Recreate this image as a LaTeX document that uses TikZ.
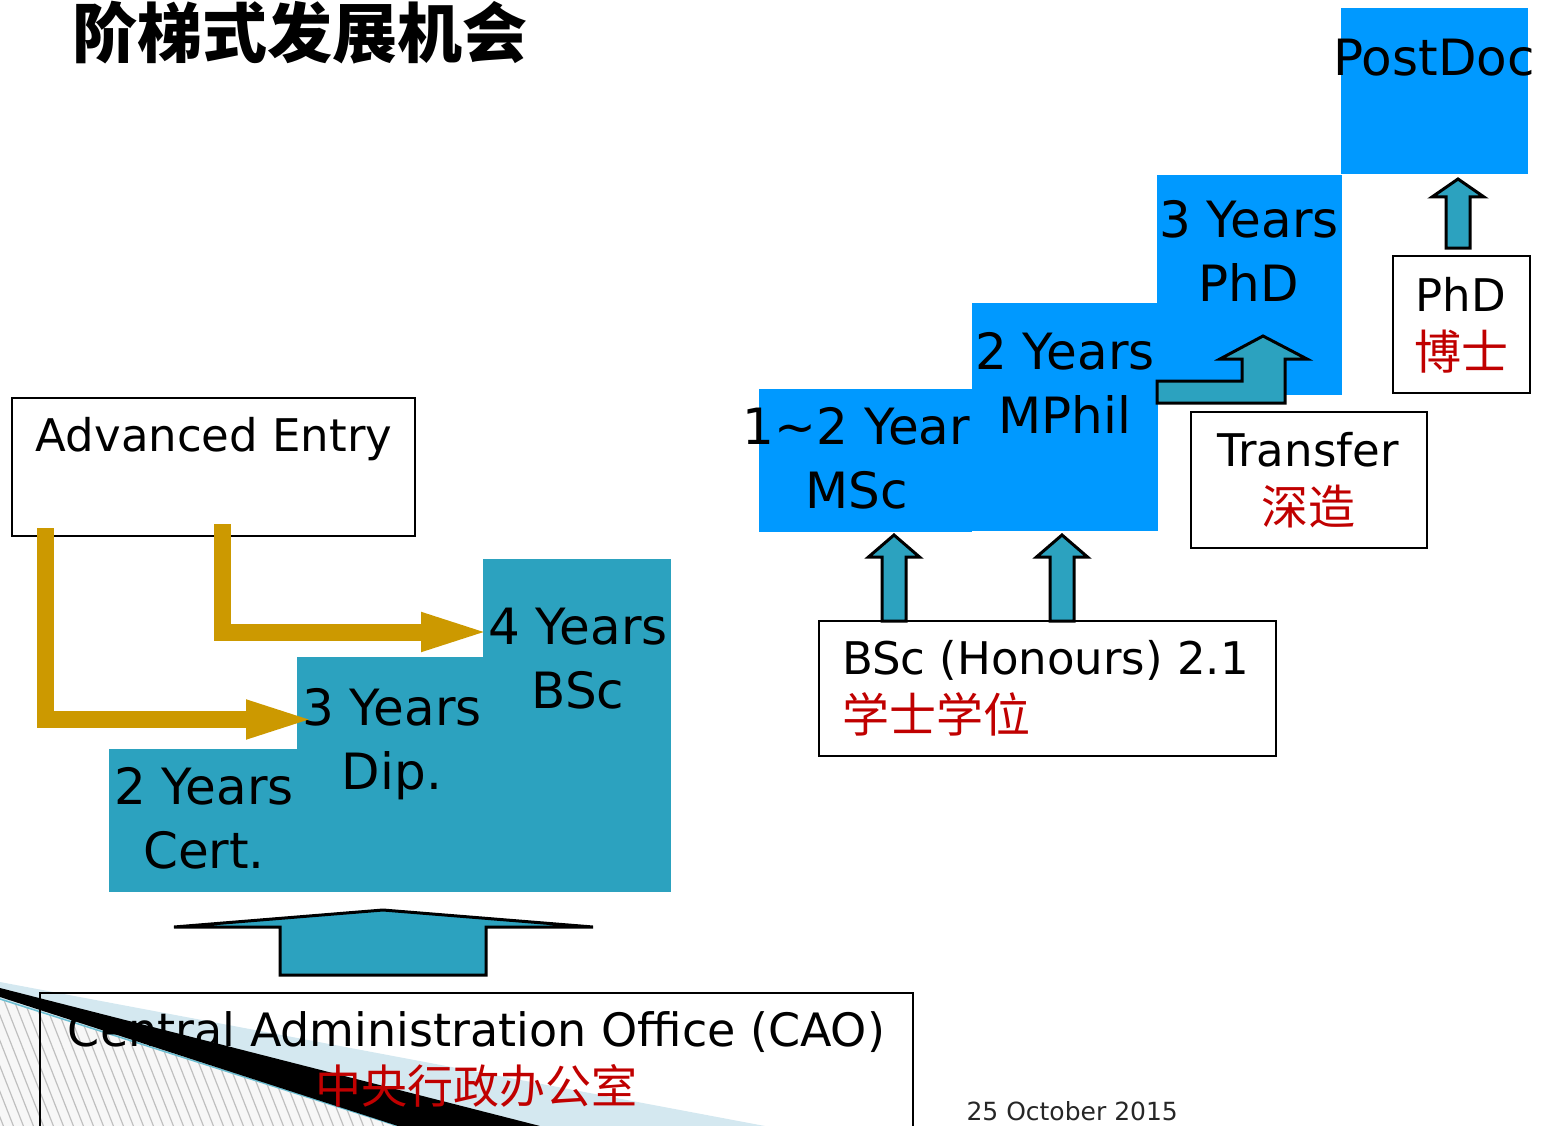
\documentclass[tikz,border=0pt]{standalone}
\usepackage{fontspec}
\setmainfont{DejaVu Sans}
\newfontfamily\cjk{Noto Sans CJK SC}
\usetikzlibrary{arrows.meta,positioning}

\definecolor{stepblue}{RGB}{0,153,255}
\definecolor{stepteal}{RGB}{44,162,191}
\definecolor{entrygold}{RGB}{204,153,0}
\definecolor{cnred}{RGB}{192,0,0}
\definecolor{bandblue}{RGB}{212,232,240}

\tikzset{
  bluestep/.style={rectangle, fill=stepblue, inner sep=0pt, outer sep=0pt},
  tealstep/.style={rectangle, fill=stepteal, inner sep=0pt, outer sep=0pt},
  steptext/.style={anchor=north, inner sep=0pt, align=center, font=\fontsize{50}{64}\selectfont},
  labelbox/.style={rectangle, draw=black, line width=2pt, fill=white, inner sep=0pt, outer sep=0pt},
  boxtext/.style={anchor=north, inner sep=0pt, align=center, font=\fontsize{45}{58}\selectfont},
  blockarrow/.style={fill=stepteal, draw=black, line width=3pt, line join=miter},
  entryarrow/.style={draw=entrygold, line width=17pt, line join=miter, -{Triangle[length=72pt,width=34pt]}}
}

\begin{document}
\begin{tikzpicture}[x=1pt,y=-1pt]
  \useasboundingbox (0,0) rectangle (1550,1126);

  % slide corner
  \fill[bandblue] (0,982) -- (765,1126) -- (0,1126) -- cycle;
  \fill[black!3] (0,999) -- (398,1126) -- (0,1126) -- cycle;
  \begin{scope}
    \clip (0,999) -- (398,1126) -- (0,1126) -- cycle;
    \foreach \x in {-60,-50,...,400}
      \draw[black!25, line width=1.2pt] (\x,990) -- ++(55,140);
  \end{scope}
  \draw[stepteal!70, line width=1.5pt] (0,999) -- (398,1126);
  \fill[black] (0,988) -- (540,1126) -- (398,1126) -- (0,997) -- cycle;

  \node[anchor=base west, font=\cjk\bfseries\fontsize{65}{70}\selectfont] (title) at (69,58) {阶梯式发展机会};

  % bottom part
  \node[labelbox, fill=none, minimum width=873pt, minimum height=180pt] (cao) at (476.5,1083) {};
  \node[boxtext, font=\fontsize{46}{57}\selectfont] (caot) at ([yshift=-18.5pt]cao.north) {Central Administration Office (CAO)\\{\cjk\color{cnred}中央行政办公室}};
  \draw[blockarrow] ([xshift=-93.5pt,yshift=18pt]cao.north) ++(-103,0) -- ++(0,-48) -- ++(-106,0) -- ++(209,-17) -- ++(210,17) -- ++(-107,0) -- ++(0,48) -- cycle;

  \node[tealstep, minimum width=189pt, minimum height=143pt] (cert) at (203.5,820.5) {};
  \node[tealstep, minimum width=187pt, minimum height=235pt] (dip) at (390.5,774.5) {};
  \node[tealstep, minimum width=188pt, minimum height=333pt] (bsc) at (577,725.5) {};
  \node[steptext] (certt) at ([xshift=0.5pt,yshift=-18pt]cert.north) {2 Years\\Cert.};
  \node[steptext] (dipt) at ([xshift=1.5pt,yshift=-31pt]dip.north) {3 Years\\Dip.};
  \node[steptext] (bsct) at ([xshift=1pt,yshift=-49pt]bsc.north) {4 Years\\BSc};

  \node[labelbox, minimum width=403pt, minimum height=138pt] (adv) at (213.5,467) {};
  \node[boxtext] (advt) at ([xshift=0.5pt,yshift=-19.5pt]adv.north) {Advanced Entry};
  \draw[entryarrow] ([xshift=33.5pt,yshift=8pt]adv.south west) |- ([xshift=21pt,yshift=55pt]dip.west);
  \draw[entryarrow] ([xshift=210.5pt,yshift=12pt]adv.south west) |- ([xshift=10pt,yshift=93.5pt]bsc.west);

  % right part
  \node[bluestep, minimum width=186pt, minimum height=228pt] (mphil) at (1065,417) {};
  \node[bluestep, minimum width=213pt, minimum height=143pt] (msc) at (865.5,460.5) {};
  \node[bluestep, minimum width=185pt, minimum height=220pt] (phd) at (1249.5,285) {};
  \node[bluestep, minimum width=187pt, minimum height=166pt] (postdoc) at (1434.5,91) {};
  \node[steptext] (msct) at ([xshift=-9pt,yshift=-18pt]msc.north) {1\textasciitilde2 Year\\MSc};
  \node[steptext] (mphilt) at ([yshift=-29pt]mphil.north) {2 Years\\MPhil};
  \node[steptext] (phdt) at ([xshift=-0.5pt,yshift=-25pt]phd.north) {3 Years\\PhD};
  \node[steptext] (postdoct) at ([xshift=-0.5pt,yshift=-31pt]postdoc.north) {PostDoc};

  \node[labelbox, minimum width=457pt, minimum height=135pt] (bsch) at (1047.5,688.5) {};
  \node[boxtext, anchor=north west, align=left] (bscht) at ([xshift=23pt,yshift=-19pt]bsch.north west) {BSc (Honours) 2.1\\{\cjk\fontsize{47}{58}\selectfont\color{cnred}学士学位}};
  \node[labelbox, minimum width=236pt, minimum height=136pt] (transfer) at (1309,480) {};
  \node[boxtext] (transfert) at ([xshift=-1pt,yshift=-20.5pt]transfer.north) {Transfer\\{\cjk\fontsize{47}{58}\selectfont\color{cnred}深造}};
  \node[labelbox, minimum width=137pt, minimum height=137pt] (phdbox) at (1461.5,324.5) {};
  \node[boxtext] (phdboxt) at ([xshift=-0.5pt,yshift=-21.5pt]phdbox.north) {PhD\\{\cjk\fontsize{47}{58}\selectfont\color{cnred}博士}};

  \draw[blockarrow] ([xshift=75pt]bsch.north west) ++(-12,0) -- ++(0,-64) -- ++(-13.5,0) -- ++(25.5,-22) -- ++(25.5,22) -- ++(-13.5,0) -- ++(0,64) -- cycle;
  \draw[blockarrow] ([xshift=243pt]bsch.north west) ++(-12,0) -- ++(0,-64) -- ++(-13.5,0) -- ++(25.5,-22) -- ++(25.5,22) -- ++(-13.5,0) -- ++(0,64) -- cycle;
  \draw[blockarrow] ([xshift=-3.5pt,yshift=8pt]phdbox.north) ++(-12,0) -- ++(0,-51) -- ++(-14,0) -- ++(26,-18) -- ++(26,18) -- ++(-14,0) -- ++(0,51) -- cycle;
  \draw[blockarrow] ([yshift=-8pt]phd.south west) -- ++(0,-22) -- ++(85,0) -- ++(0,-22) -- ++(-22,0) -- ++(43,-23) -- ++(44,23) -- ++(-22,0) -- ++(0,44) -- cycle;

  \node[anchor=base west, font=\fontsize{25}{30}\selectfont, text=black!85] (date) at (963,1120) {25 October 2015};
\end{tikzpicture}
\end{document}
